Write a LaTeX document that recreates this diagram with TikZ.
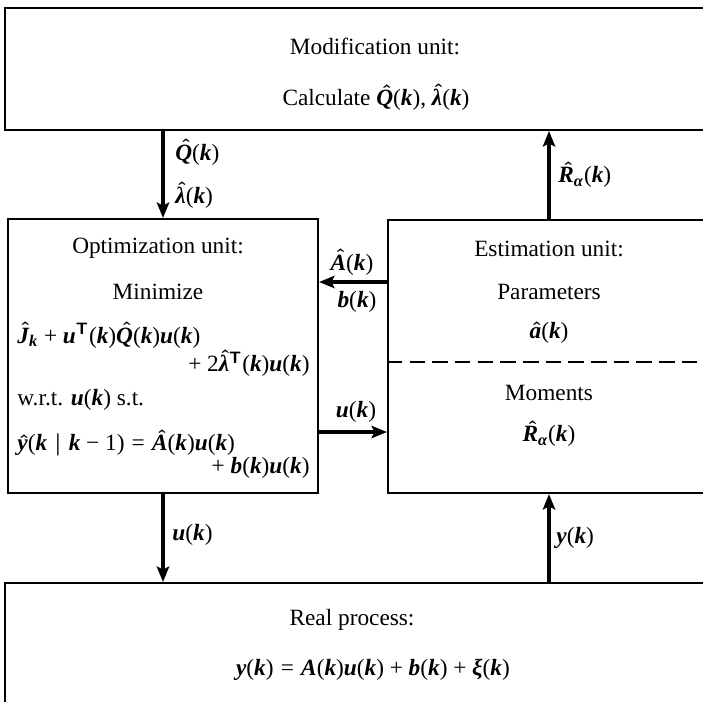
\documentclass[tikz,border=0pt]{standalone}
\usepackage{amsmath}
\usepackage[no-math]{fontspec}
\setmainfont{Liberation Serif}
\newfontfamily\mathlib{Liberation Serif}[NFSSFamily=libsmath]
\DeclareSymbolFont{bil}{TU}{libsmath}{bx}{it}
\DeclareSymbolFont{rgl}{TU}{libsmath}{m}{n}
\Umathcode`k=7 \symbil `k\relax
\Umathcode`u=7 \symbil `u\relax
\Umathcode`y=7 \symbil `y\relax
\Umathcode`a=7 \symbil `a\relax
\Umathcode`b=7 \symbil `b\relax
\Umathcode`Q=7 \symbil `Q\relax
\Umathcode`J=7 \symbil `J\relax
\Umathcode`A=7 \symbil `A\relax
\Umathcode`R=7 \symbil `R\relax
\Umathchardef\lambda=7 \symbil "03BB\relax
\Umathchardef\xi=7 \symbil "03BE\relax
\Umathchardef\alpha=7 \symbil "03B1\relax
\Umathcode`1=0 \symrgl `1\relax
\Umathcode`2=0 \symrgl `2\relax
\Umathcode"28=4 \symrgl "28\relax
\Umathcode"29=5 \symrgl "29\relax
\Umathcode"2B=2 \symrgl "2B\relax
\Umathcode"3D=3 \symrgl "3D\relax
\Umathcode"2D=2 \symrgl "2212\relax
\usetikzlibrary{arrows.meta,fit,calc}
\begin{document}
\begin{tikzpicture}[x=0.485pt,y=-0.485pt,
  box/.style={draw, line width=1pt, inner sep=0pt},
  arr/.style={line width=1.5pt, -{Stealth[length=7.5pt,width=6pt,inset=1.5pt]}},
  divider/.style={line width=1pt, dash pattern=on 7.5pt off 3.5pt},
  txt/.style={inner sep=0pt, font=\fontsize{11.3}{13.5}\selectfont\boldmath},
]
\useasboundingbox (0,0) rectangle (703,701);
\clip (0,0) rectangle (703,701);
% boxes
\node[box, fit={(5,8) (710,130)}] (mod) {};
\node[box, fit={(8,219) (318,493)}] (opt) {};
\node[box, fit={(388,220) (710,493)}] (est) {};
\node[box, fit={(5,583) (710,720)}] (real) {};
% modification unit text
\node[txt] (mod1) at (375,46) {Modification unit:};
\node[txt] (mod2) at (376,97) {Calculate $\skew{3}\hat{Q}(k)$, $\skew{2}\hat{\lambda}(k)$};
% optimization unit text
\node[txt] (opt1) at (158,248) {Optimization unit:};
\node[txt] (opt2) at (158,292) {Minimize};
\node[txt, anchor=west] (opt3) at (17,335) {$\skew{3}\hat{J}_k + u^{\mathsf{T}}(k)\skew{3}\hat{Q}(k)u(k)$};
\node[txt, anchor=east] (opt4) at (310,363) {${}+ 2\skew{2}\hat{\lambda}^{\mathsf{T}}(k)u(k)$};
\node[txt, anchor=west] (opt5) at (17,400) {w.r.t. $u(k)$ s.t.};
\node[txt, anchor=west] (opt6) at (17,443) {$\skew{2}\hat{y}(k \mid k-1) = \skew{3}\hat{A}(k)u(k)$};
\node[txt, anchor=east] (opt7) at (310,468) {${}+ b(k)u(k)$};
% estimation unit text
\node[txt] (est1) at (549,249) {Estimation unit:};
\node[txt] (est2) at (549,292) {Parameters};
\node[txt] (est3) at (549,333) {$\skew{2}\hat{a}(k)$};
\node[txt] (est4) at (549,393) {Moments};
\node[txt] (est5) at (549,434) {$\skew{3}\hat{R}_{\alpha}(k)$};
% real process text
\node[txt] (real1) at (352,620) {Real process:};
\node[txt] (real2) at (373,670) {$y(k) = A(k)u(k) + b(k) + \xi(k)$};
% divider
\coordinate (dL) at ([yshift=-2.67pt]est.west);
\draw[divider] (dL) -- (dL -| est.east);
% connectors
\draw[arr] (mod.south -| opt.north) -- (opt.north);
\draw[arr] (est.north) -- (est.north |- mod.south);
\draw[arr] (opt.south) -- (opt.south |- real.north);
\draw[arr] (real.north -| est.south) -- (est.south);
\coordinate (abR) at ([yshift=36.13pt]est.west);
\draw[arr] (abR) -- (abR -| opt.east);
\coordinate (uL) at ([yshift=-36.86pt]opt.east);
\draw[arr] (uL) -- (uL -| est.west);
% connector labels
\node[txt, anchor=west] (lQ) at (175,152) {$\skew{3}\hat{Q}(k)$};
\node[txt, anchor=west] (lL) at (175,195) {$\skew{2}\hat{\lambda}(k)$};
\node[txt, anchor=west] (lR) at (558,175) {$\skew{3}\hat{R}_{\alpha}(k)$};
\node[txt] (lA) at (352,262) {$\skew{3}\hat{A}(k)$};
\node[txt] (lb) at (357,302) {$b(k)$};
\node[txt] (lu1) at (356,412) {$u(k)$};
\node[txt, anchor=west] (lu2) at (172,535) {$u(k)$};
\node[txt, anchor=west] (ly) at (556,538) {$y(k)$};
\end{tikzpicture}
\end{document}
